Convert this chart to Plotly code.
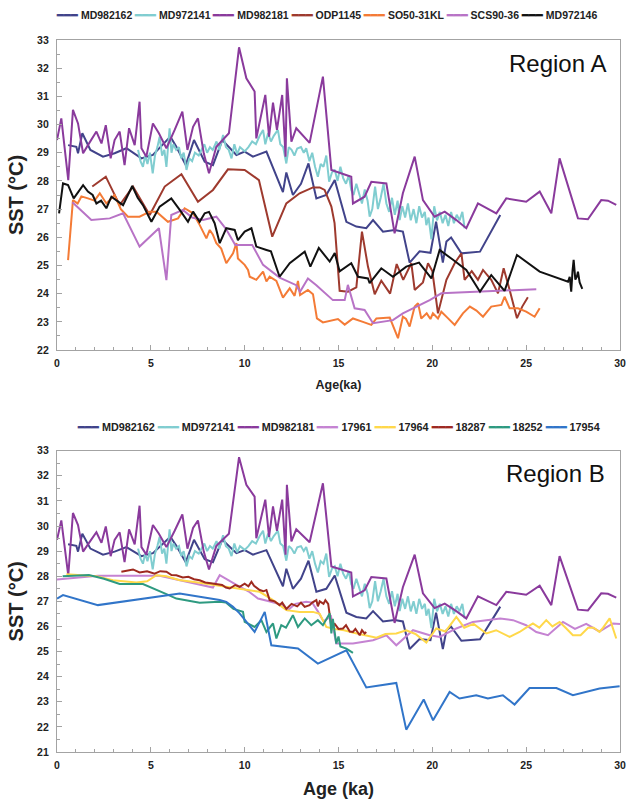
import plotly.graph_objects as go

# ---------------- data ----------------
# shared series (both panels)
md982162_age = [0.59, 1.03, 1.12, 1.35, 1.78, 2.45, 3.07, 3.7, 4.5, 5.11, 6.04, 6.36, 6.86, 7.3, 7.87, 8.31, 8.81, 9.56, 10.0, 10.44, 11.16, 12.04, 12.22, 12.57, 13.0, 13.4, 13.82, 14.35, 14.8, 15.42, 15.95, 16.48, 16.84, 17.37, 17.99, 18.43, 18.79, 19.32, 19.9, 20.2, 20.56, 20.75, 21.0, 21.55, 22.54, 23.62]
md982162_sst = [29.27, 29.21, 28.98, 29.69, 29.1, 28.86, 28.98, 29.16, 28.8, 28.92, 29.57, 29.21, 28.56, 29.45, 28.68, 28.56, 29.45, 28.92, 29.04, 28.86, 29.04, 27.6, 28.3, 27.5, 27.9, 28.62, 27.38, 27.5, 28.03, 26.55, 26.38, 26.32, 26.61, 26.2, 26.26, 26.2, 25.1, 25.5, 25.45, 26.55, 25.1, 25.85, 25.99, 25.43, 25.49, 26.79]

md972141_age = [4.32, 4.45, 4.58, 4.7, 4.82, 4.95, 5.1, 5.22, 5.35, 5.47, 5.6, 5.72, 5.83, 6.0, 6.1, 6.2, 6.35, 6.5, 6.62, 6.75, 6.9, 7.05, 7.2, 7.35, 7.55, 7.7, 7.85, 8.0, 8.15, 8.3, 8.5, 8.65, 8.85, 9.0, 9.15, 9.3, 9.45, 9.6, 9.75, 10.0, 10.2, 10.4, 10.6, 10.8, 10.98, 11.1, 11.25, 11.4, 11.55, 11.77, 11.9, 12.05, 12.22, 12.35, 12.5, 12.65, 12.8, 13.0, 13.15, 13.28, 13.45, 13.6, 13.75, 13.9, 14.05, 14.2, 14.35, 14.5, 14.65, 14.8, 14.95, 15.1, 15.25, 15.4, 15.55, 15.68, 15.8, 15.95, 16.1, 16.25, 16.4, 16.55, 16.66, 16.8, 16.95, 17.1, 17.25, 17.4, 17.55, 17.7, 17.85, 18.0, 18.15, 18.26, 18.4, 18.55, 18.7, 18.85, 19.0, 19.15, 19.3, 19.45, 19.6, 19.68, 19.8, 19.95, 20.1, 20.25, 20.4, 20.55, 20.7, 20.85, 21.0, 21.15, 21.3, 21.45, 21.6, 21.72]
md972141_sst = [29.1, 28.7, 28.5, 28.9, 28.6, 29.0, 28.27, 28.9, 29.2, 29.57, 28.9, 29.1, 28.5, 29.87, 29.0, 29.3, 29.1, 29.2, 28.8, 29.0, 28.39, 28.8, 28.7, 29.0, 28.9, 29.1, 29.3, 29.0, 29.2, 29.1, 29.4, 29.1, 29.63, 29.2, 29.1, 28.8, 29.3, 28.95, 29.2, 29.05, 29.2, 29.4, 29.3, 29.6, 29.81, 29.3, 29.7, 29.4, 29.6, 29.81, 29.3, 29.2, 28.62, 29.2, 29.1, 28.9, 29.15, 29.2, 29.0, 29.16, 28.7, 29.0, 28.5, 28.15, 28.6, 28.5, 28.9, 27.97, 28.3, 28.4, 28.0, 28.5, 28.1, 27.9, 28.2, 27.68, 27.5, 27.9, 27.5, 27.2, 27.7, 27.3, 26.73, 27.0, 27.8, 27.0, 27.4, 27.9, 27.2, 26.9, 27.4, 26.8, 27.3, 26.61, 27.1, 26.7, 27.2, 26.6, 27.0, 26.5, 27.1, 26.7, 26.9, 26.43, 26.7, 25.93, 27.1, 26.6, 26.9, 26.5, 26.8, 26.4, 26.9, 26.5, 26.8, 26.6, 26.9, 26.32]

md982181_age = [0.0, 0.23, 0.6, 0.85, 1.12, 1.39, 1.65, 2.1, 2.37, 2.6, 2.86, 3.07, 3.34, 3.6, 3.84, 4.14, 4.4, 4.5, 4.76, 5.11, 5.43, 5.83, 6.27, 6.68, 6.95, 7.25, 7.51, 7.82, 8.1, 8.49, 9.16, 9.7, 10.09, 10.53, 10.62, 11.1, 11.3, 11.51, 11.72, 12.0, 12.18, 12.25, 12.49, 12.75, 13.46, 14.17, 14.62, 15.68, 15.77, 16.39, 16.75, 17.55, 17.99, 18.43, 19.06, 19.5, 20.12, 20.66, 21.28, 21.81, 22.43, 23.41, 23.94, 25.0, 25.72, 26.34, 26.78, 27.76, 28.29, 29.0, 29.36, 29.8]
md982181_sst = [29.45, 30.22, 28.03, 30.52, 30.04, 28.98, 29.27, 29.75, 29.33, 29.98, 28.8, 29.45, 29.75, 28.56, 29.87, 29.27, 30.81, 29.16, 28.86, 30.04, 29.69, 29.16, 29.81, 30.46, 29.1, 29.92, 30.22, 28.98, 28.27, 29.21, 29.69, 32.74, 31.64, 31.17, 29.51, 31.05, 29.57, 30.78, 29.81, 31.05, 28.86, 31.64, 29.39, 29.87, 29.35, 31.7, 28.39, 28.15, 27.2, 27.44, 27.97, 27.91, 26.14, 27.56, 28.86, 27.32, 26.73, 26.91, 26.61, 26.32, 27.2, 26.85, 27.38, 27.26, 27.62, 26.85, 28.8, 26.67, 26.64, 27.32, 27.3, 27.15]

# Region A only
odp1145_age = [1.88, 2.6, 3.34, 4.05, 4.94, 5.74, 6.63, 7.51, 8.31, 9.11, 10.0, 10.76, 11.47, 12.22, 12.93, 13.64, 14.0, 14.26, 14.62, 14.79, 15.06, 15.5, 15.95, 16.25, 16.57, 16.93, 17.28, 17.75, 18.1, 18.45, 18.88, 19.06, 19.5, 19.77, 20.0, 20.3, 20.75, 21.19, 21.55, 21.72, 22.1, 22.43, 22.7, 23.14, 23.5, 23.8, 24.12, 24.51, 24.79, 25.09]
odp1145_sst = [27.8, 28.15, 27.14, 27.8, 26.79, 27.8, 28.24, 27.26, 27.68, 28.41, 28.39, 28.03, 26.02, 27.2, 27.56, 27.77, 27.77, 27.68, 27.09, 26.5, 24.1, 24.07, 24.22, 26.2, 24.96, 23.98, 24.46, 24.0, 25.05, 24.49, 25.08, 24.13, 24.4, 25.08, 24.8, 23.3, 24.49, 25.08, 25.43, 24.49, 24.8, 24.49, 24.84, 24.49, 24.01, 24.9, 24.13, 23.13, 23.54, 23.87]

so5031kl_age = [0.59, 0.85, 1.1, 1.3, 1.65, 2.0, 2.28, 2.63, 3.07, 3.4, 3.78, 4.4, 4.94, 5.3, 5.91, 6.45, 6.8, 7.25, 7.6, 7.96, 8.14, 8.3, 8.49, 8.75, 9.02, 9.38, 9.56, 9.64, 10.0, 10.18, 10.27, 10.62, 10.98, 11.16, 11.33, 11.69, 12.04, 12.4, 12.66, 12.84, 12.95, 13.37, 13.64, 13.85, 14.17, 14.97, 15.33, 15.77, 16.3, 16.75, 17.02, 17.73, 18.17, 18.43, 18.6, 18.79, 19.06, 19.24, 19.41, 19.7, 19.9, 20.03, 20.3, 20.48, 20.8, 21.19, 21.63, 22.0, 22.35, 22.7, 23.14, 23.68, 23.85, 24.12, 24.56, 25.0, 25.45, 25.72]
so5031kl_sst = [25.19, 27.32, 27.2, 27.45, 27.38, 27.3, 27.56, 27.2, 27.5, 27.0, 26.73, 26.73, 26.91, 26.91, 26.55, 26.67, 27.03, 26.85, 26.44, 25.96, 26.26, 26.1, 25.79, 25.6, 25.08, 25.43, 25.79, 25.25, 25.02, 24.84, 24.6, 24.49, 24.78, 24.43, 24.6, 24.45, 23.86, 24.19, 23.92, 24.45, 23.95, 24.13, 23.98, 23.12, 22.98, 23.1, 22.9, 23.12, 23.0, 22.89, 23.12, 23.15, 22.42, 23.18, 23.1, 22.83, 23.54, 23.66, 23.12, 23.3, 23.1, 23.3, 23.12, 23.36, 23.15, 22.89, 23.3, 23.54, 23.4, 23.18, 23.54, 23.6, 23.89, 23.48, 23.48, 23.36, 23.18, 23.48]

scs9036_age = [0.82, 1.83, 2.81, 3.52, 4.4, 5.43, 5.83, 6.09, 6.71, 7.2, 7.78, 8.49, 9.0, 9.5, 10.4, 10.98, 11.86, 12.75, 12.95, 13.37, 13.82, 14.7, 15.33, 15.5, 15.86, 16.39, 16.84, 17.9, 18.43, 19.15, 19.86, 20.48, 21.81, 23.62, 25.54]
scs9036_sst = [27.24, 26.61, 26.67, 26.85, 25.67, 26.32, 24.48, 26.79, 26.97, 26.7, 26.61, 26.73, 26.3, 25.73, 25.73, 25.02, 24.57, 24.3, 24.07, 24.54, 24.3, 23.77, 23.77, 24.31, 23.48, 23.42, 22.95, 23.06, 23.3, 23.54, 23.77, 24.01, 24.05, 24.1, 24.16]

md972146_age = [0.11, 0.32, 0.59, 0.89, 1.39, 1.65, 1.9, 2.1, 2.35, 2.63, 2.9, 3.2, 3.52, 4.01, 4.3, 4.58, 5.03, 5.47, 6.09, 6.54, 6.98, 7.25, 7.6, 7.87, 8.1, 8.4, 8.67, 9.02, 9.47, 9.64, 10.0, 10.36, 10.62, 11.16, 11.4, 11.86, 12.4, 13.2, 13.5, 13.95, 14.53, 14.8, 15.06, 15.68, 16.04, 16.57, 16.66, 17.28, 17.9, 18.61, 19.29, 19.95, 20.39, 21.1, 21.81, 22.54, 23.14, 23.85, 24.51, 25.72, 27.23, 27.32, 27.4, 27.47, 27.53, 27.62, 27.7, 27.76, 27.85, 27.99]
md972146_sst = [26.85, 27.91, 27.85, 27.38, 27.85, 27.62, 27.5, 27.2, 27.3, 27.03, 27.44, 27.3, 27.14, 27.82, 27.4, 27.14, 26.55, 27.09, 27.38, 26.97, 26.55, 26.91, 26.55, 26.85, 26.9, 26.5, 25.79, 26.32, 26.26, 25.9, 26.2, 26.32, 25.67, 25.55, 25.5, 24.6, 25.08, 25.49, 24.96, 25.62, 25.14, 25.44, 24.79, 25.08, 24.6, 24.54, 24.37, 24.9, 24.6, 24.96, 25.1, 24.54, 25.55, 25.2, 24.84, 24.07, 24.66, 24.1, 25.37, 24.78, 24.42, 24.6, 24.07, 24.8, 25.2, 24.5, 24.6, 24.78, 24.4, 24.17]

# Region B only
c17961_age = [0.0, 2.18, 5.47, 8.31, 8.67, 9.2, 9.7, 10.2, 10.71, 11.3, 12.04, 12.31, 12.7, 13.28, 13.6, 13.9, 14.2, 14.6, 14.88, 15.24, 15.77, 16.84, 17.55, 18.08, 18.97, 19.86, 20.39, 21.28, 22.16, 22.88, 23.62, 24.3, 25.0, 25.54, 26.16, 26.96, 27.6, 28.2, 28.9, 29.62, 30.0]
c17961_sst = [27.87, 28.02, 28.02, 27.55, 28.04, 27.8, 27.6, 27.4, 27.11, 27.0, 26.85, 26.65, 26.9, 26.98, 26.95, 26.6, 26.2, 26.4, 25.32, 25.32, 25.32, 25.45, 25.65, 25.25, 25.85, 25.65, 25.58, 25.92, 26.18, 26.25, 26.32, 26.25, 26.05, 25.78, 25.65, 26.18, 25.9, 26.1, 25.8, 26.12, 26.1]

c17964_age = [0.5, 2.1, 2.98, 4.23, 4.8, 5.3, 5.83, 6.5, 7.5, 8.49, 9.73, 10.8, 11.51, 12.22, 12.93, 13.64, 14.0, 14.35, 14.8, 15.3, 15.8, 16.3, 17.02, 17.5, 18.08, 18.61, 19.1, 19.68, 20.21, 20.7, 21.28, 21.7, 22.2, 22.88, 23.4, 24.12, 24.65, 25.0, 25.36, 25.7, 26.07, 26.4, 26.78, 27.1, 27.49, 27.9, 28.3, 28.6, 28.91, 29.1, 29.45, 29.8]
c17964_sst = [28.08, 28.0, 27.84, 27.75, 27.8, 28.04, 28.0, 27.85, 27.75, 27.64, 27.51, 27.38, 27.05, 26.65, 26.58, 26.58, 26.5, 25.98, 25.9, 25.85, 25.75, 25.68, 25.55, 25.7, 25.72, 25.85, 25.7, 25.36, 25.92, 25.8, 26.38, 25.95, 26.1, 25.72, 25.85, 25.58, 25.78, 25.95, 26.12, 25.95, 26.25, 26.0, 26.18, 25.95, 25.65, 25.65, 25.95, 25.95, 25.78, 25.95, 26.32, 25.52]

c18287_age = [3.43, 4.05, 4.4, 4.8, 5.2, 5.5, 5.83, 6.1, 6.36, 6.7, 7.0, 7.3, 7.6, 7.9, 8.2, 8.49, 8.8, 9.0, 9.2, 9.5, 9.73, 10.0, 10.2, 10.36, 10.5, 10.8, 11.0, 11.16, 11.33, 11.6, 11.86, 12.0, 12.22, 12.5, 12.8, 13.0, 13.2, 13.46, 13.6, 13.82, 13.9, 14.0, 14.2, 14.3, 14.45, 14.62, 14.8, 15.0, 15.24, 15.4, 15.6, 15.77, 15.9, 16.13, 16.25, 16.39, 16.48]
c18287_sst = [28.18, 28.27, 28.15, 28.2, 28.1, 28.2, 28.18, 28.05, 28.04, 27.95, 27.98, 27.88, 27.84, 27.75, 27.72, 27.69, 27.65, 27.55, 27.51, 27.65, 27.58, 27.7, 27.6, 27.78, 27.62, 27.45, 27.4, 27.45, 27.05, 27.0, 26.85, 26.95, 26.7, 26.9, 26.8, 26.95, 26.78, 26.85, 26.95, 27.05, 26.8, 27.0, 26.9, 27.05, 26.9, 25.98, 26.1, 25.9, 25.92, 26.05, 25.8, 25.78, 25.9, 25.65, 25.85, 25.72, 25.78]

c18252_age = [0.3, 1.7, 2.5, 3.34, 4.58, 5.2, 5.8, 6.36, 7.6, 8.67, 9.0, 9.4, 9.91, 10.0, 10.53, 10.89, 11.16, 11.51, 11.69, 11.95, 12.2, 12.57, 12.84, 13.2, 13.55, 13.9, 14.17, 14.53, 14.62, 14.7, 14.88, 15.0, 15.1, 15.42, 15.77]
c18252_sst = [28.0, 28.05, 27.9, 27.69, 27.69, 27.5, 27.3, 27.11, 26.94, 26.98, 26.95, 26.7, 26.58, 26.18, 25.98, 26.25, 25.78, 26.12, 25.52, 26.05, 25.95, 26.45, 25.98, 26.32, 26.05, 26.25, 26.05, 26.52, 25.72, 26.3, 25.32, 25.6, 25.2, 25.12, 24.95]

c17954_age = [0.0, 0.32, 2.18, 6.54, 8.67, 9.02, 9.38, 9.73, 10.53, 11.07, 11.42, 12.84, 13.9, 15.42, 16.48, 18.08, 18.61, 19.54, 20.04, 20.92, 21.45, 22.34, 22.96, 23.76, 24.38, 25.18, 26.61, 27.49, 28.91, 29.98]
c17954_sst = [27.11, 27.25, 26.85, 27.31, 27.05, 26.98, 26.78, 26.52, 25.78, 26.58, 25.25, 25.12, 24.52, 25.05, 23.57, 23.75, 21.89, 23.09, 22.26, 23.39, 23.13, 23.26, 23.13, 23.26, 22.89, 23.55, 23.55, 23.26, 23.53, 23.62]

x_ticks = [0, 5, 10, 15, 20, 25, 30]
y_ticks_a = list(range(22, 34))
y_ticks_b = list(range(21, 34))

# ---------------- styling ----------------
COL = {
    "MD982162": "#41438A",
    "MD972141": "#80CDD0",
    "MD982181": "#8A3A9C",
    "ODP1145": "#9E3A2E",
    "SO50-31KL": "#F47B36",
    "SCS90-36": "#B873C6",
    "MD972146": "#111111",
    "17961": "#C583D2",
    "17964": "#FFD84A",
    "18287": "#9E2A1F",
    "18252": "#2E9A80",
    "17954": "#3175C9",
}
FONT = "Liberation Sans, Arial, sans-serif"
INK = "#222222"
AXC = "#A3A3A3"

series_a = [
    ("MD982162", md982162_age, md982162_sst),
    ("MD972141", md972141_age, md972141_sst),
    ("MD982181", md982181_age, md982181_sst),
    ("ODP1145", odp1145_age, odp1145_sst),
    ("SO50-31KL", so5031kl_age, so5031kl_sst),
    ("SCS90-36", scs9036_age, scs9036_sst),
    ("MD972146", md972146_age, md972146_sst),
]
series_b = [
    ("MD982162", md982162_age, md982162_sst),
    ("MD972141", md972141_age, md972141_sst),
    ("MD982181", md982181_age, md982181_sst),
    ("17961", c17961_age, c17961_sst),
    ("17964", c17964_age, c17964_sst),
    ("18287", c18287_age, c18287_sst),
    ("18252", c18252_age, c18252_sst),
    ("17954", c17954_age, c17954_sst),
]

fig = go.Figure()
for name, xs, ys in series_a:
    fig.add_trace(go.Scatter(x=xs, y=ys, mode="lines", name=name,
                             line=dict(color=COL[name], width=2),
                             xaxis="x", yaxis="y", showlegend=False))
for name, xs, ys in series_b:
    fig.add_trace(go.Scatter(x=xs, y=ys, mode="lines", name=name,
                             line=dict(color=COL[name], width=2),
                             xaxis="x2", yaxis="y2", showlegend=False))


def legend_text(series):
    parts = []
    for name, _, _ in series:
        parts.append("<span style='color:%s'>━━━</span> %s" % (COL[name], name))
    return " ".join(parts)


axis_common = dict(
    showline=True, linecolor=AXC, linewidth=1.3, mirror=True,
    showgrid=False, zeroline=False,
    ticks="inside", ticklen=5, tickwidth=1, tickcolor=AXC,
    tickfont=dict(family=FONT, size=10.5, color=INK, weight="bold"),
    automargin=False,
)
minor_x = dict(dtick=1, ticks="inside", ticklen=3, tickcolor=AXC)
minor_y = dict(dtick=0.5, ticks="inside", ticklen=3, tickcolor=AXC)

fig.update_layout(
    width=626, height=801,
    margin=dict(l=57, r=6, t=40, b=49),
    paper_bgcolor="white", plot_bgcolor="white",
    font=dict(family=FONT, color=INK),
    showlegend=False,
    xaxis=dict(domain=[0, 1], anchor="y", range=[0, 30], tickvals=x_ticks, minor=minor_x,
               title=dict(text="Age(ka)", font=dict(family=FONT, size=12.5, weight="bold", color=INK), standoff=12),
               ticklabelstandoff=3, **axis_common),
    yaxis=dict(domain=[0.5646, 1], anchor="x", range=[22, 33], tickvals=y_ticks_a, minor=minor_y,
               title=dict(text="SST (°C)", font=dict(family=FONT, size=20, weight="bold", color=INK), standoff=8),
               ticklabelstandoff=5, **axis_common),
    xaxis2=dict(domain=[0, 1], anchor="y2", range=[0, 30], tickvals=x_ticks, minor=minor_x,
                title=dict(text="Age (ka)", font=dict(family=FONT, size=18, weight="bold", color=INK), standoff=12),
                ticklabelstandoff=3, **axis_common),
    yaxis2=dict(domain=[0, 0.4232], anchor="x2", range=[21, 33], tickvals=y_ticks_b, minor=minor_y,
                title=dict(text="SST (°C)", font=dict(family=FONT, size=20, weight="bold", color=INK), standoff=8),
                ticklabelstandoff=5, **axis_common),
    annotations=[
        dict(text=legend_text(series_a), xref="paper", yref="paper",
             x=(326 - 57) / 563, y=(752 - 15) / 712, xanchor="center", yanchor="middle",
             showarrow=False, font=dict(family=FONT, size=10.5, weight="bold", color=INK)),
        dict(text=legend_text(series_b), xref="paper", yref="paper",
             x=(338 - 57) / 563, y=(752 - 427) / 712, xanchor="center", yanchor="middle",
             showarrow=False, font=dict(family=FONT, size=10.8, weight="bold", color=INK)),
        dict(text="Region A", xref="paper", yref="paper", x=(608 - 57) / 563, y=(752 - 63) / 712,
             xanchor="right", yanchor="middle", showarrow=False,
             font=dict(family=FONT, size=24, color="#111111")),
        dict(text="Region B", xref="paper", yref="paper", x=(607 - 57) / 563, y=(752 - 473) / 712,
             xanchor="right", yanchor="middle", showarrow=False,
             font=dict(family=FONT, size=24, color="#111111")),
    ],
)

# remove the browser's default 8px page margin so the figure sits at the window's top-left
fig.write_html("out.html", config={"displayModeBar": False},
               post_script="document.body.style.margin='0';")
